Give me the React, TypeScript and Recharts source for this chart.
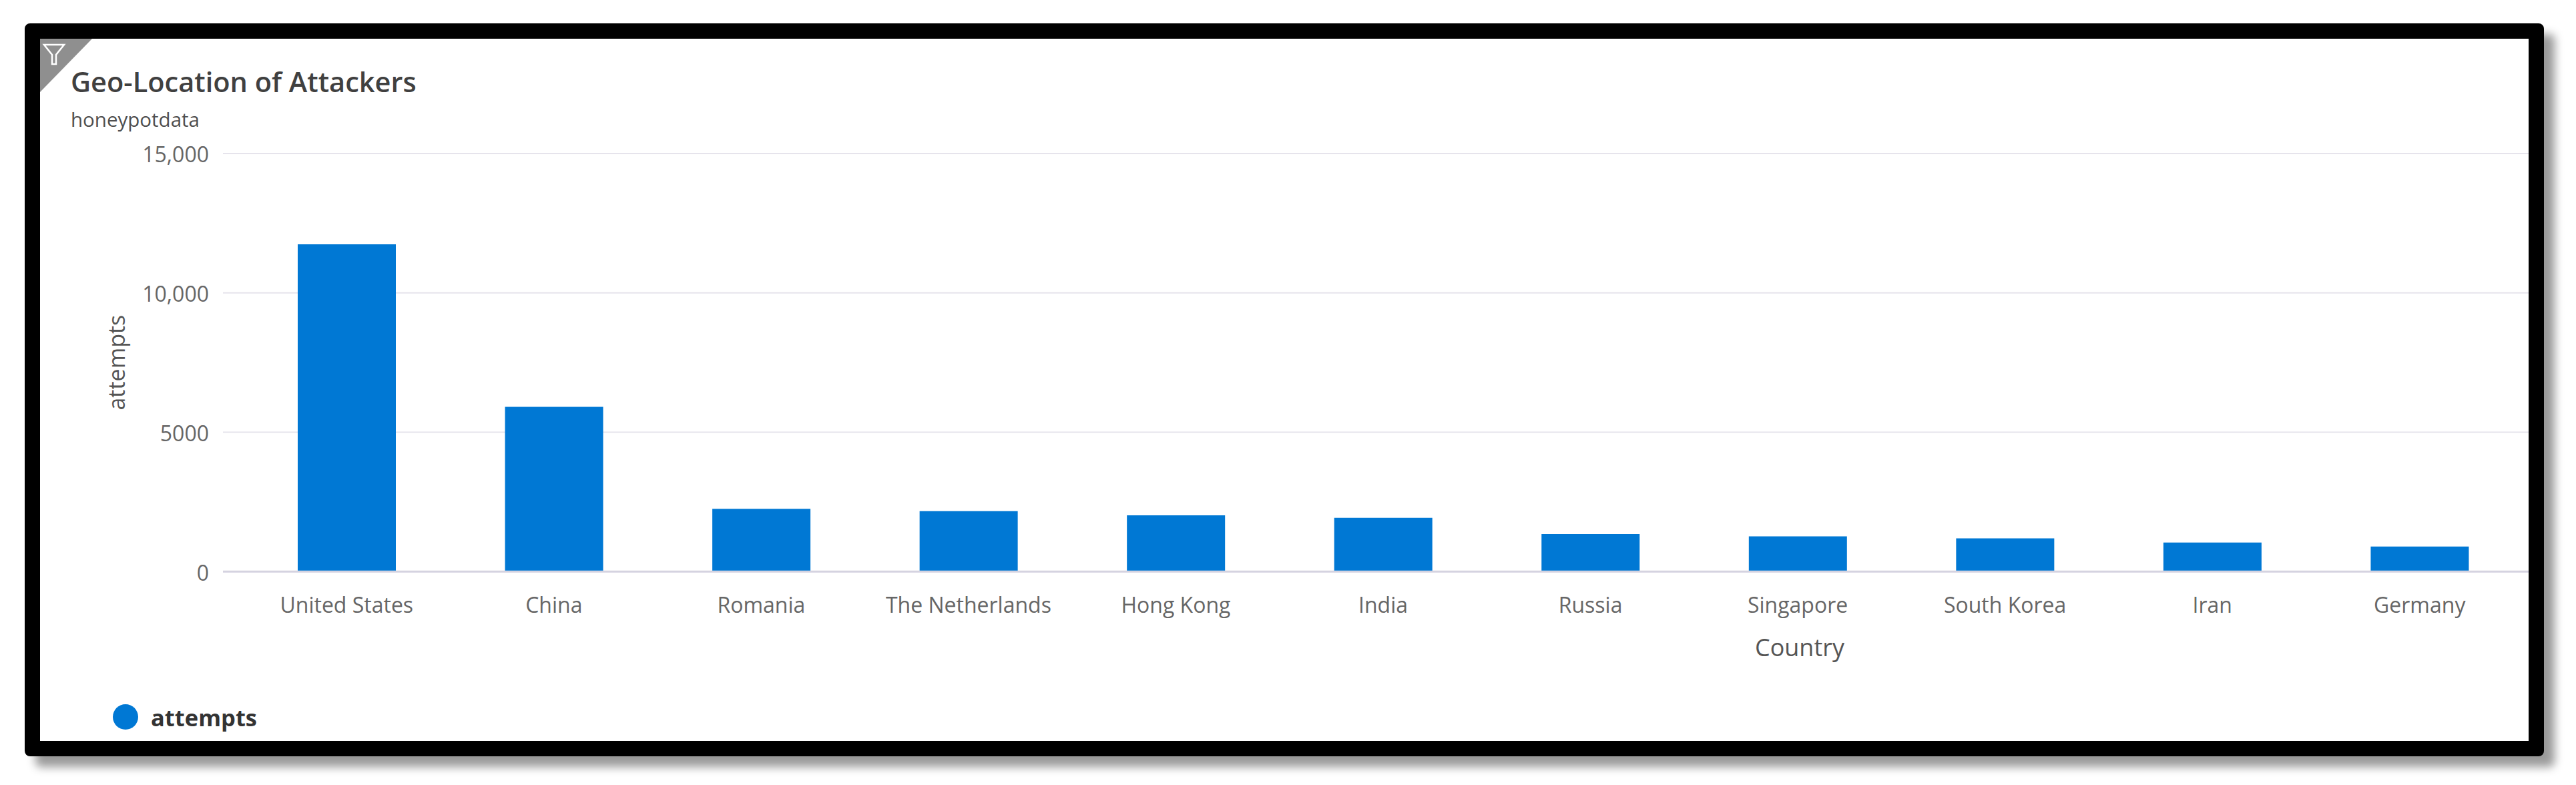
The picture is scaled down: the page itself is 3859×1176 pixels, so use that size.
import { BarChart, Bar, XAxis, YAxis, CartesianGrid, Legend } from 'recharts';

const countries = [
  'United States',
  'China',
  'Romania',
  'The Netherlands',
  'Hong Kong',
  'India',
  'Russia',
  'Singapore',
  'South Korea',
  'Iran',
  'Germany',
];
const attempts = [11740, 5910, 2250, 2170, 2020, 1930, 1345, 1265, 1195, 1045, 900];
const yTicks = [0, 5000, 10000, 15000];
const yTickLabels = ['0', '5000', '10,000', '15,000'];

const FONT = '"Open Sans", "Noto Sans", sans-serif';
const BLUE = '#0078d4';

const data = countries.map((country, i) => ({ country, attempts: attempts[i] }));

export default function App() {
  return (
    <div
      style={{
        position: 'absolute',
        left: 0,
        top: 0,
        width: 3859,
        height: 1176,
        background: '#fff',
        overflow: 'hidden',
        fontFamily: FONT,
      }}
    >
      {/* black frame with drop shadow */}
      <div
        style={{
          position: 'absolute',
          left: 37,
          top: 35,
          width: 3774,
          height: 1098,
          boxSizing: 'border-box',
          border: '23px solid #000',
          borderRadius: 8,
          boxShadow: '16px 16px 14px rgba(0,0,0,0.4)',
          background: '#fff',
        }}
      />

      {/* filter corner */}
      <svg style={{ position: 'absolute', left: 60, top: 58 }} width={80} height={82}>
        <polygon points="0,0 78,0 0,80" fill="#8f8f8f" />
        <path
          d="M6 9 H36 L24 24 V38 H18 V24 Z"
          fill="none"
          stroke="#fff"
          strokeWidth={2.5}
        />
      </svg>

      <div style={{ position: 'absolute', left: 106, top: 94, fontSize: 41.5, fontWeight: 600, color: '#404040', whiteSpace: 'nowrap' }}>
        Geo-Location of Attackers
      </div>
      <div style={{ position: 'absolute', left: 106, top: 158, fontSize: 29.5, color: '#505050', whiteSpace: 'nowrap' }}>
        honeypotdata
      </div>

      <div style={{ position: 'absolute', left: 60, top: 58 }}>
        <BarChart
          width={3728}
          height={1052}
          data={data}
          margin={{ top: 172, right: 0, bottom: 122, left: 154 }}
        >
          <CartesianGrid horizontal vertical={false} stroke="#e6e4ec" strokeWidth={2} />
          <XAxis
            dataKey="country"
            interval={0}
            padding={{ left: 30, right: 8 }}
            axisLine={{ stroke: '#d5d3e0', strokeWidth: 3 }}
            tickLine={false}
            tickMargin={33}
            height={80}
            tick={{ fill: '#666', fontSize: 32, fontFamily: FONT }}
            label={{
              value: 'Country',
              position: 'bottom',
              dx: 635,
              dy: 16,
              fill: '#555',
              fontSize: 36,
              fontFamily: FONT,
            }}
          />
          <YAxis
            domain={[0, 15000]}
            ticks={yTicks}
            width={120}
            axisLine={false}
            tickLine={false}
            tickMargin={15}
            tickFormatter={(v) => yTickLabels[yTicks.indexOf(v)]}
            tick={{ fill: '#666', fontSize: 32, fontFamily: FONT, dy: 2 }}
            label={{
              value: 'attempts',
              angle: -90,
              position: 'center',
              dx: -99,
              fill: '#555',
              fontSize: 34,
              fontFamily: FONT,
            }}
          />
          <Bar dataKey="attempts" fill={BLUE} barSize={147} isAnimationActive={false} />
          <Legend
            align="left"
            verticalAlign="bottom"
            iconType="circle"
            iconSize={38}
            formatter={(value) => (
              <span style={{ color: '#333', fontWeight: 700, fontSize: 34.5, marginLeft: 15, fontFamily: FONT, position: 'relative', top: 10 }}>{value}</span>
            )}
            wrapperStyle={{ left: 109, bottom: 17, width: 400 }}
          />
        </BarChart>
      </div>
    </div>
  );
}
